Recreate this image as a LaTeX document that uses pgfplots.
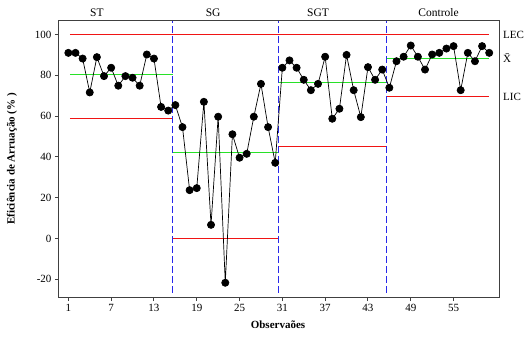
\documentclass[border=0pt]{standalone}
\usepackage{pgfplots}
\pgfplotsset{compat=1.18}
\usepackage{pgfplotstable}
\usepackage{fontspec}
\setmainfont{Liberation Serif}
\definecolor{lred}{RGB}{240,20,20}
\definecolor{lgreen}{RGB}{40,225,40}
\definecolor{lblue}{RGB}{40,40,235}

\pgfplotstableread{
x y
1 91
2 91
3 88.2
4 71.6
5 88.9
6 79.6
7 83.7
8 74.9
9 79.6
10 78.8
11 74.9
12 90.2
13 88.2
14 64.5
15 62.7
16 65.4
17 54.6
18 23.7
19 24.7
20 67
21 6.7
22 59.7
23 -21.7
24 51.1
25 39.6
26 41.5
27 59.7
28 75.8
29 54.6
30 37.1
31 83.7
32 87.3
33 83.7
34 77.8
35 72.7
36 75.8
37 89.1
38 58.7
39 63.6
40 90.0
41 72.7
42 59.5
43 84.0
44 77.8
45 82.8
46 73.9
47 86.9
48 89.1
49 94.6
50 89.1
51 82.8
52 90.2
53 91.0
54 93.1
55 94.3
56 72.7
57 91.0
58 86.9
59 94.3
60 91.0
}\data

\begin{document}
\begin{tikzpicture}
\begin{axis}[at={(0,0)}, anchor=south west, scale only axis,
  width=440pt, height=276pt,
  xmin=-0.3112, xmax=61.3711, ymin=-28.6765, ymax=106.6176,
  xtick={1,7,...,55}, ytick={-20,0,...,100},
  tick align=outside, xtick pos=left, ytick pos=left,
  major tick length=4pt,
  axis line style={black!75, line width=1pt},
  major tick style={black!75, line width=1pt},
  /pgf/number format/assume math mode=true,
  ticklabel style={font=\fontsize{11}{13}\selectfont},
  unbounded coords=jump,
  clip=false,
]
% control limits (red)
\addplot[draw=lred, color=lred, line width=1pt] coordinates {
 (1.2,100) (60,100) (60,nan)
 (1.2,58.8235) (15.6,58.8235) (15.6,nan)
 (15.6,0) (30.46,0) (30.46,nan)
 (30.46,45.0980) (45.6,45.0980) (45.6,nan)
 (45.6,69.6078) (60,69.6078)
};
% centre lines (green)
\addplot[draw=lgreen, color=lgreen, line width=1pt] coordinates {
 (1.2,80.3922) (15.6,80.3922) (15.6,nan)
 (15.6,42.1569) (30.46,42.1569) (30.46,nan)
 (30.46,76.4706) (45.6,76.4706) (45.6,nan)
 (45.6,88.2353) (60,88.2353)
};
% separators
\addplot[draw=lblue, color=lblue, line width=1pt, dash pattern=on 7pt off 3pt] coordinates {
 (15.6,-26.6) (15.6,106.6176) (15.6,nan)
 (30.46,-26.6) (30.46,106.6176) (30.46,nan)
 (45.6,-26.6) (45.6,106.6176)
};
% data
\addplot[draw=black, color=black, line width=0.7pt, mark=*, mark size=3.6pt, mark options={fill=black, solid}] table[x=x,y=y] {\data};

\node[anchor=base, font=\fontsize{11.5}{13}\selectfont] at ([yshift=4pt]axis cs:5,106.6176) {ST};
\node[anchor=base, font=\fontsize{11.5}{13}\selectfont] at ([yshift=4pt]axis cs:21.3,106.6176) {SG};
\node[anchor=base, font=\fontsize{11.5}{13}\selectfont] at ([yshift=4pt]axis cs:36,106.6176) {SGT};
\node[anchor=base, font=\fontsize{11.5}{13}\selectfont] at ([yshift=4pt]axis cs:52.9,106.6176) {Controle};
\node[anchor=west, inner sep=0pt, font=\fontsize{11}{13}\selectfont] at ([xshift=4pt]axis cs:61.3711,100) {LEC};
\node[anchor=west, inner sep=0pt, font=\fontsize{11}{13}\selectfont] at ([xshift=4pt]axis cs:61.3711,88.2353) {\=X};
\node[anchor=west, inner sep=0pt, font=\fontsize{11}{13}\selectfont] at ([xshift=4pt]axis cs:61.3711,69.6078) {LIC};
\node[rotate=90, font=\fontsize{11}{13}\selectfont\bfseries] at ([xshift=-47pt]rel axis cs:0,0.5) {Eficiência de Arruação (\% )};
\node[font=\fontsize{11}{13}\selectfont\bfseries] at ([yshift=-27.7pt, xshift=-1pt]rel axis cs:0.5,0) {Observaões};
\end{axis}
\pgfresetboundingbox
\path[use as bounding box] (-59pt,-40pt) rectangle (465pt,297pt);
\end{tikzpicture}
\end{document}
